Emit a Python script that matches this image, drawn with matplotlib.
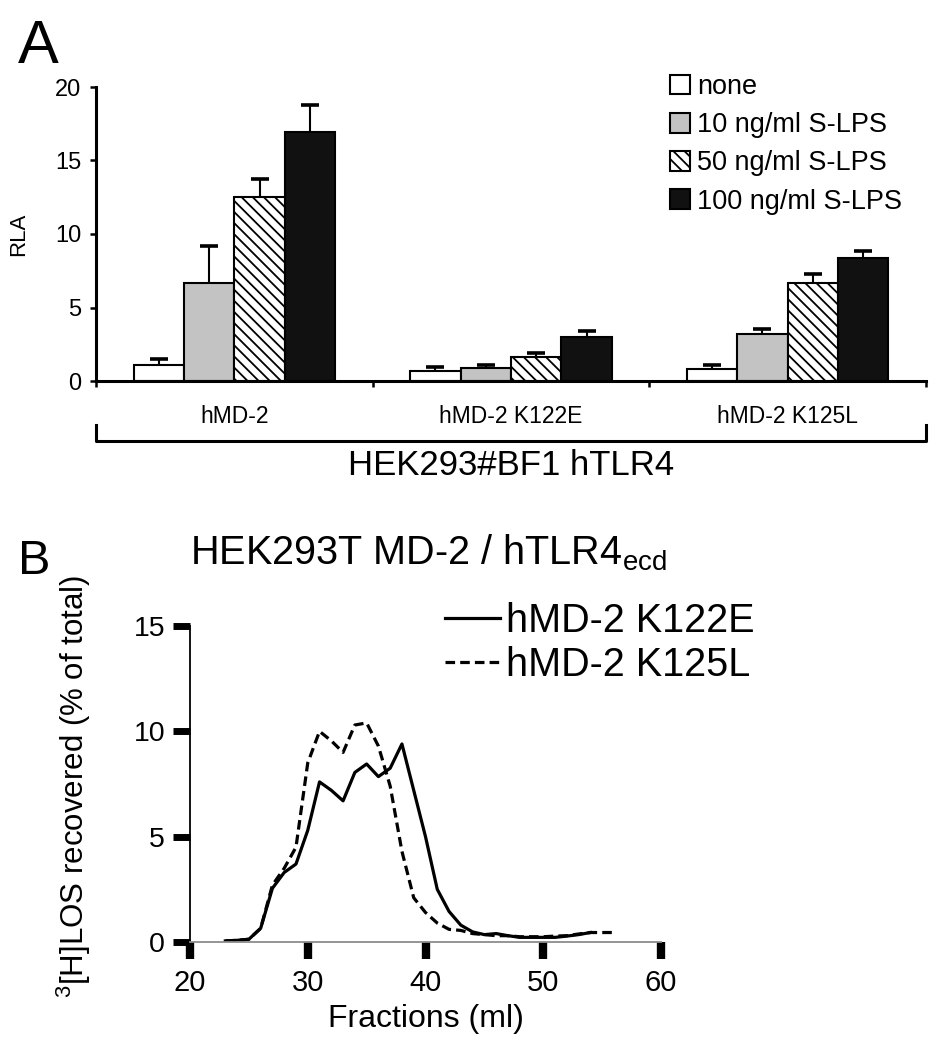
import numpy as np
import matplotlib.pyplot as plt
from matplotlib.patches import Patch

plt.rcParams['font.family'] = ['Liberation Sans', 'DejaVu Sans']
plt.rcParams['mathtext.fontset'] = 'custom'
plt.rcParams['mathtext.rm'] = 'Liberation Sans'
plt.rcParams['hatch.linewidth'] = 1.3

# panel A: RLA per construct and LPS dose
groups = ['hMD-2', 'hMD-2 K122E', 'hMD-2 K125L']
conditions = ['none', '10 ng/ml S-LPS', '50 ng/ml S-LPS', '100 ng/ml S-LPS']
rla_none = [1.07, 0.68, 0.84]
rla_10 = [6.7, 0.86, 3.17]
rla_50 = [12.55, 1.66, 6.7]
rla_100 = [16.95, 2.97, 8.4]
err_none = [0.45, 0.25, 0.23]
err_10 = [2.45, 0.23, 0.39]
err_50 = [1.18, 0.24, 0.61]
err_100 = [1.8, 0.41, 0.41]

# panel B: elution profiles
frac_k122e = np.arange(23, 55)
los_k122e = [0.05, 0.08, 0.13, 0.65, 2.55, 3.3, 3.7, 5.3, 7.6, 7.2, 6.7, 8.05,
             8.45, 7.85, 8.25, 9.4, 7.2, 5.0, 2.5, 1.45, 0.8, 0.48, 0.35, 0.4,
             0.3, 0.22, 0.22, 0.22, 0.22, 0.28, 0.35, 0.45]
frac_k125l = np.arange(23, 57)
los_k125l = [0.05, 0.08, 0.13, 0.65, 2.7, 3.5, 4.5, 8.5, 10.0, 9.55, 9.0, 10.3,
             10.4, 9.3, 7.4, 4.3, 2.1, 1.4, 0.9, 0.6, 0.55, 0.4, 0.35, 0.3,
             0.3, 0.25, 0.25, 0.25, 0.28, 0.3, 0.38, 0.45, 0.45, 0.45]

fig = plt.figure(figsize=(9.46, 10.5), dpi=100)

# ---- panel A ----
axA = fig.add_axes([96/946, 1-381/1050, 830/946, 294/1050])
x = np.arange(len(groups)) + 0.5
w = 0.182
vals = [rla_none, rla_10, rla_50, rla_100]
errs = [err_none, err_10, err_50, err_100]
colors = ['white', '#c3c3c3', 'white', '#111111']
hatches = [None, None, '\\\\\\', None]
handles = []
for i in range(4):
    xpos = x + (i - 1.5) * w
    v = np.array(vals[i])
    e = np.array(errs[i])
    axA.bar(xpos, v, w, color=colors[i], edgecolor='black', linewidth=1.5,
            hatch=hatches[i], zorder=2)
    # upper error bar only, cap at the top end
    axA.errorbar(xpos, v, yerr=[np.zeros(3), e], fmt='none', ecolor='black',
                 elinewidth=1.5, capsize=0, zorder=3)
    axA.plot(xpos, v + e, ls='none', marker='_', ms=13, mew=2.6, color='black',
             zorder=3)
    handles.append(Patch(facecolor=colors[i], edgecolor='black', linewidth=1.5,
                         hatch=hatches[i]))

axA.set_xlim(0, 3)
axA.set_ylim(0, 20)
axA.set_yticks([0, 5, 10, 15, 20])
axA.set_xticks([0, 1, 2, 3])
axA.set_xticklabels([])
for s in ['top', 'right']:
    axA.spines[s].set_visible(False)
axA.spines['left'].set_linewidth(2.2)
axA.spines['bottom'].set_linewidth(2.2)
axA.tick_params(axis='y', direction='out', length=4.5, width=1.8, labelsize=17, pad=6)
axA.tick_params(axis='x', direction='out', length=4, width=1.8)
axA.set_ylabel('RLA', fontsize=16)
axA.yaxis.set_label_coords(-0.08, 0.5)

for xi, g in zip(x, groups):
    axA.text(xi, -0.143, g, transform=axA.get_xaxis_transform(), ha='center',
             va='baseline', fontsize=16.5)
axA.plot([0, 0, 1, 1], [-0.150, -0.204, -0.204, -0.150], color='black', lw=2.2,
         transform=axA.transAxes, clip_on=False)
axA.text(0.5, -0.320, 'HEK293#BF1 hTLR4', transform=axA.transAxes, ha='center',
         va='baseline', fontsize=25)

axA.legend(handles, conditions, loc='upper left', bbox_to_anchor=(670/946, 1-74/1050),
           bbox_transform=fig.transFigure, frameon=False, fontsize=19.5,
           handlelength=0.75, handleheight=0.75, handletextpad=0.25, labelspacing=0.45,
           borderpad=0, borderaxespad=0)

fig.text(18/946, 1-63/1050, 'A', fontsize=44, va='baseline', ha='left')

# ---- panel B ----
axB = fig.add_axes([190/946, 1-942/1050, 471/946, 316/1050])
axB.plot(frac_k122e, los_k122e, color='black', lw=2.3, label='hMD-2 K122E')
axB.plot(frac_k125l, los_k125l, color='black', lw=2.3, linestyle=(0, (3, 1.6)),
         label='hMD-2 K125L')
axB.set_xlim(20, 60)
axB.set_ylim(0, 15)
axB.set_xticks([20, 30, 40, 50, 60])
axB.set_yticks([0, 5, 10, 15])
for s in ['top', 'right']:
    axB.spines[s].set_visible(False)
axB.spines['left'].set_linewidth(1.3)
axB.spines['bottom'].set_linewidth(1.3)
axB.spines['bottom'].set_color('#8c8c8c')
axB.tick_params(axis='y', direction='out', length=12, width=5, labelsize=20.5, pad=6)
axB.tick_params(axis='x', direction='out', length=12.5, width=6, labelsize=21, pad=7)
axB.set_xlabel('Fractions (ml)', fontsize=23)
axB.xaxis.set_label_coords(0.5, -0.195)
axB.set_ylabel(r'$\mathregular{^3}$[H]LOS recovered (% of total)', fontsize=22.5)
axB.yaxis.set_label_coords(-0.205, 0.494)

axB.legend(loc='upper left', bbox_to_anchor=(445/946, 1-602/1050),
           bbox_transform=fig.transFigure, frameon=False, fontsize=28.5,
           handlelength=1.4, handletextpad=0.15, labelspacing=0.15,
           borderpad=0, borderaxespad=0)

fig.text(190/946, 1-564/1050, r'HEK293T MD-2 / hTLR4$\mathregular{_{ecd}}$',
         fontsize=28.5, va='baseline', ha='left')
fig.text(18/946, 1-574/1050, 'B', fontsize=35, va='baseline', ha='left')

fig.savefig('out.png', dpi=100)
